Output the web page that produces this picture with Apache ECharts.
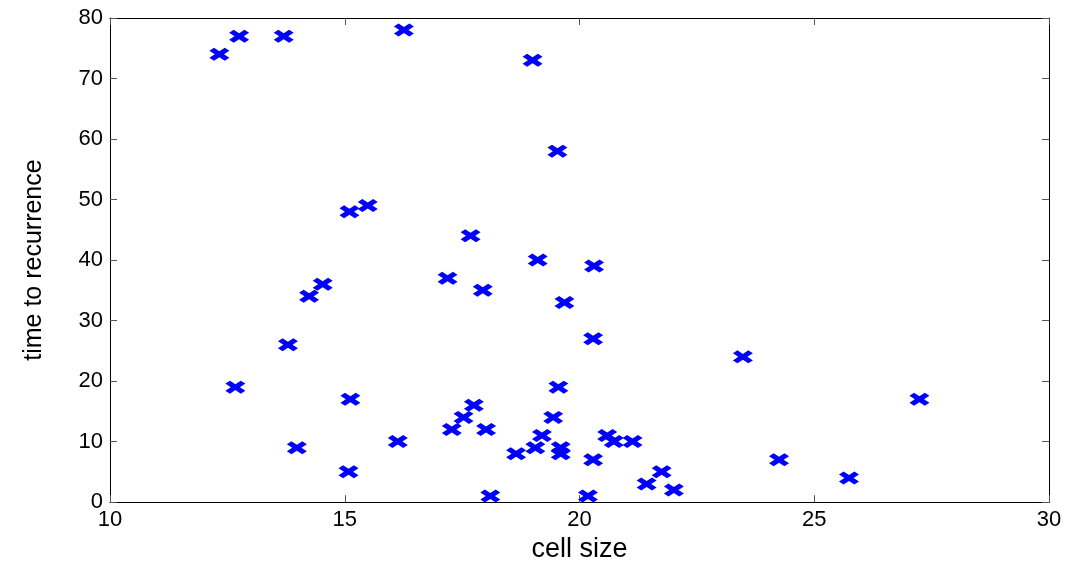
<!DOCTYPE html>
<html>
<head>
<meta charset="utf-8">
<script src="https://cdn.jsdelivr.net/npm/echarts@6/dist/echarts.min.js"></script>
<style>
  html, body { margin: 0; padding: 0; background: #fff; }
  #main { width: 1072px; height: 568px; }
</style>
</head>
<body>
<div id="main"></div>
<script>
// cell size (x) and time to recurrence (y)
const cellSize = [
    12.33, 12.75, 13.70, 16.26, 19.00, 19.53, 15.10, 15.49, 17.68, 19.11,
    20.31, 17.19, 17.94, 14.53, 14.24, 19.68, 20.29, 13.79, 23.48, 12.67,
    19.55, 15.12, 27.24, 17.75, 17.53, 19.44, 17.28, 18.01, 19.20, 20.59,
    13.98, 16.13, 19.06, 19.60, 19.60, 20.73, 21.13, 18.65, 20.29, 24.25,
    15.08, 21.75, 21.43, 22.01, 25.74, 18.10, 20.18
];
const recurrenceTime = [
    74, 77, 77, 78, 73, 58, 48, 49, 44, 40,
    39, 37, 35, 36, 34, 33, 27, 26, 24, 19,
    19, 17, 17, 16, 14, 14, 12, 12, 11, 11,
    9, 10, 9, 9, 8, 10, 10, 8, 7, 7,
    5, 5, 3, 2, 4, 1, 1
];

const xTicks = { min: 10, max: 30, step: 5 };
const yTicks = { min: 0, max: 80, step: 10 };

const points = cellSize.map((v, i) => [v, recurrenceTime[i]]);

// fat "x" marker
const crossPath = 'path://M0,2.3 L2.3,0 L5,2.7 L7.7,0 L10,2.3 L7.3,5 L10,7.7 L7.7,10 L5,7.3 L2.3,10 L0,7.7 L2.7,5 Z';

const fontFamily = 'Liberation Sans, Arial, sans-serif';

const chart = echarts.init(document.getElementById('main'), null, { renderer: 'canvas' });

function boxAxis(range, position, showLabel, extra) {
    return Object.assign({
        type: 'value',
        position: position,
        min: range.min,
        max: range.max,
        interval: range.step,
        splitLine: { show: false },
        axisLine: { show: true, onZero: false, lineStyle: { color: '#000', width: 1 } },
        axisTick: { show: true, inside: true, length: 7, lineStyle: { color: '#555', width: 1 } },
        axisLabel: {
            show: showLabel,
            color: '#000',
            fontSize: 22,
            fontFamily: fontFamily,
            margin: 7
        }
    }, extra || {});
}

chart.setOption({
    backgroundColor: '#fff',
    animation: false,
    grid: { left: 110, right: 23, top: 18, bottom: 58, containLabel: false },
    xAxis: [
        boxAxis(xTicks, 'bottom', true, {
            name: 'cell size',
            nameLocation: 'middle',
            nameGap: 30,
            nameTextStyle: { color: '#000', fontSize: 27, fontFamily: fontFamily }
        }),
        boxAxis(xTicks, 'top', false)
    ],
    yAxis: [
        boxAxis(yTicks, 'left', true, {
            name: 'time to recurrence',
            nameLocation: 'middle',
            nameGap: 63,
            nameTextStyle: { color: '#000', fontSize: 25, fontFamily: fontFamily }
        }),
        boxAxis(yTicks, 'right', false)
    ],
    series: [{
        type: 'scatter',
        data: points,
        symbol: crossPath,
        symbolSize: [20, 13],
        itemStyle: { color: '#0000ff', opacity: 1 }
    }]
});
</script>
</body>
</html>
